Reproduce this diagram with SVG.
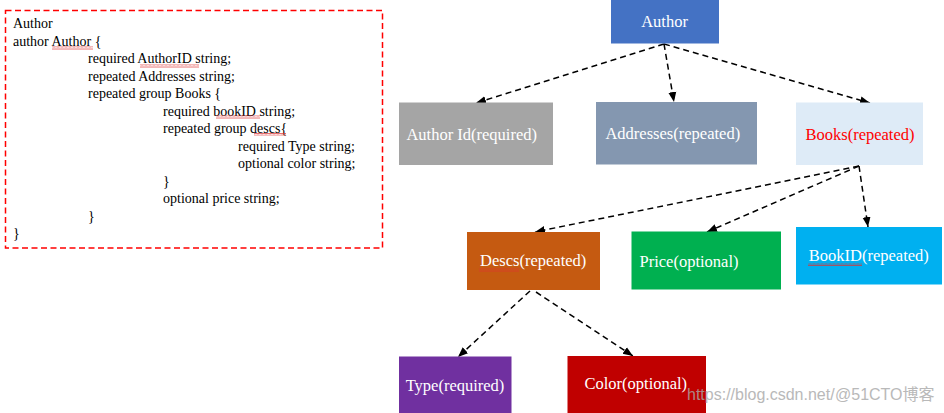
<svg xmlns="http://www.w3.org/2000/svg" width="944" height="413" viewBox="0 0 944 413">
  <style>
    .code { font-family: "Liberation Serif", "Times New Roman", serif; font-size: 14px; fill: #000; }
    .lbl { font-family: "Liberation Serif", "Times New Roman", serif; font-size: 16.5px; fill: #fff; text-anchor: middle; }
    .conn { fill: none; stroke: #000; stroke-width: 1.5; stroke-dasharray: 6 4; }
    .wm { font-family: "Liberation Sans", Arial, "Noto Sans CJK SC", sans-serif; font-size: 16px; fill: #a8a8a8; opacity: 0.8; }
  </style>
  <defs>
    <marker id="arr" markerUnits="userSpaceOnUse" markerWidth="10" markerHeight="10" viewBox="0 0 10 10" refX="10" refY="5" orient="auto">
      <path d="M0,1 L10,5 L0,9 Z" fill="#000"/>
    </marker>
    <pattern id="squig" patternUnits="userSpaceOnUse" width="4" height="3">
      <path d="M0,2.5 L1,0.5 L2,2.5 L3,0.5 L4,2.5" fill="none" stroke="#e03030" stroke-width="0.7"/>
    </pattern>
  </defs>

  <rect width="944" height="413" fill="#fff"/>

  <g id="schema">
    <rect x="5.5" y="10.5" width="377" height="237.5" fill="none" stroke="#ff0000" stroke-width="1.5" stroke-dasharray="6 3.5"/>
    <text class="code" x="13" y="28">Author</text>
    <text class="code" x="13" y="45.5">author Author {</text>
    <text class="code" x="88" y="63">required AuthorID string;</text>
    <text class="code" x="88" y="80.5">repeated Addresses string;</text>
    <text class="code" x="88" y="98">repeated group Books {</text>
    <text class="code" x="163" y="115.5">required bookID string;</text>
    <text class="code" x="163" y="133">repeated group descs{</text>
    <text class="code" x="238" y="150.5">required Type string;</text>
    <text class="code" x="238" y="168">optional color string;</text>
    <text class="code" x="163" y="185.5">}</text>
    <text class="code" x="163" y="203">optional price string;</text>
    <text class="code" x="88" y="220.5">}</text>
    <text class="code" x="13" y="238">}</text>
    <rect x="52" y="46.5" width="41" height="3" fill="url(#squig)"/>
    <rect x="140" y="64.5" width="59" height="3" fill="url(#squig)"/>
    <rect x="216" y="115.5" width="44" height="3" fill="url(#squig)"/>
    <rect x="254" y="133" width="32" height="3" fill="url(#squig)"/>
  </g>

  <g id="connectors">
    <path class="conn" d="M664,44 L476,103" marker-end="url(#arr)"/>
    <path class="conn" d="M664,44 L674,102" marker-end="url(#arr)"/>
    <path class="conn" d="M664,44 L870,103" marker-end="url(#arr)"/>
    <path class="conn" d="M859,166 L535,232" marker-end="url(#arr)"/>
    <path class="conn" d="M859,166 L707,232" marker-end="url(#arr)"/>
    <path class="conn" d="M859,166 L868,227" marker-end="url(#arr)"/>
    <path class="conn" d="M530,291 L458,357" marker-end="url(#arr)"/>
    <path class="conn" d="M536,292 L633,356" marker-end="url(#arr)"/>
  </g>

  <g id="node-author">
    <rect x="611" y="0" width="108" height="43.5" fill="#4472c4"/>
    <text class="lbl" x="664.5" y="27">Author</text>
  </g>
  <g id="node-authorid">
    <rect x="399" y="102.5" width="154" height="62.5" fill="#a5a5a5"/>
    <text class="lbl" x="471.7" y="140">Author Id(required)</text>
  </g>
  <g id="node-addresses">
    <rect x="596" y="102" width="161" height="62.5" fill="#8497b0"/>
    <text class="lbl" x="672.8" y="139">Addresses(repeated)</text>
  </g>
  <g id="node-books">
    <rect x="796" y="102.5" width="127" height="62.5" fill="#deebf7"/>
    <text class="lbl" x="860" y="140" style="fill:#ff0000">Books(repeated)</text>
  </g>
  <g id="node-descs">
    <rect x="467" y="232" width="133" height="58" fill="#c55a11"/>
    <text class="lbl" x="533.2" y="266.3">Descs(repeated)</text>
    <rect x="479" y="268.5" width="40" height="3" fill="url(#squig)"/>
  </g>
  <g id="node-price">
    <rect x="631.5" y="231.5" width="149.5" height="58" fill="#00b050"/>
    <text class="lbl" x="689" y="266.7">Price(optional)</text>
  </g>
  <g id="node-bookid">
    <rect x="796" y="227" width="146" height="57.5" fill="#00b0f0"/>
    <text class="lbl" x="868.8" y="261.3">BookID(repeated)</text>
    <rect x="808" y="263" width="54" height="3" fill="url(#squig)"/>
  </g>
  <g id="node-type">
    <rect x="399" y="356.5" width="112.5" height="56.5" fill="#7030a0"/>
    <text class="lbl" x="455" y="390.7">Type(required)</text>
  </g>
  <g id="node-color">
    <rect x="567.5" y="356" width="138.5" height="57" fill="#c00000"/>
    <text class="lbl" x="635.8" y="389.3">Color(optional)</text>
  </g>

  <g id="watermark">
    <text class="wm" x="687" y="400">https://blog.csdn.net/</text>
    <text class="wm" x="835" y="400">@51CTO博客</text>
  </g>
</svg>
